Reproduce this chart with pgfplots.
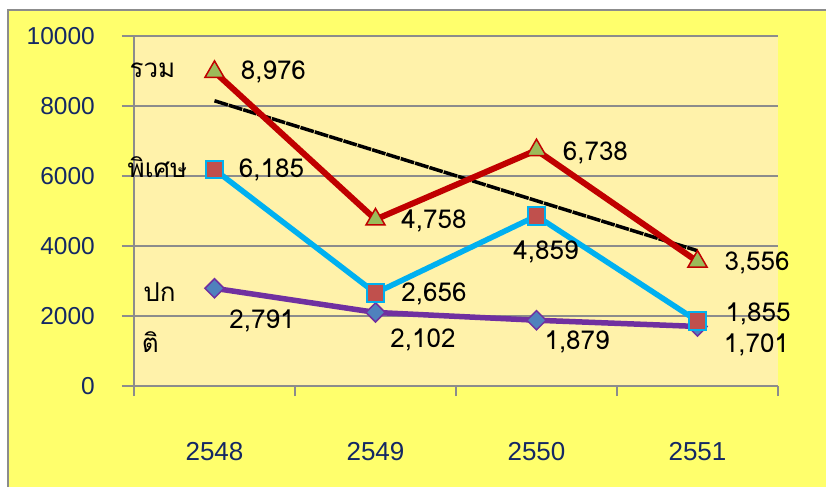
\documentclass[border=0pt]{standalone}
\usepackage{fontspec}
\setmainfont{Liberation Sans}
\newfontfamily\thaifont[Script=Thai]{Loma}
\usepackage{pgfplots}
\pgfplotsset{compat=1.18}
\definecolor{outery}{RGB}{255,255,108}
\definecolor{ploty}{RGB}{255,242,170}
\definecolor{gridg}{RGB}{140,140,140}
\definecolor{navy}{RGB}{20,40,100}
\definecolor{rredd}{RGB}{192,0,0}
\definecolor{tgreen}{RGB}{155,187,89}
\definecolor{cyanl}{RGB}{0,176,240}
\definecolor{sqred}{RGB}{192,80,77}
\definecolor{purp}{RGB}{112,48,160}
\definecolor{dblue}{RGB}{79,129,189}
\begin{document}
\begin{tikzpicture}[x=1pt,y=1pt]
\useasboundingbox (0,0) rectangle (826,487);
\fill[outery] (8,0) rectangle (826,477);
\draw[gridg, line width=2.5pt] (8,0) -- (8,477) -- (826,477);
\begin{axis}[
  at={(134pt,101pt)}, anchor=south west,
  scale only axis, width=644pt, height=350pt,
  xmin=-0.5, xmax=3.5, ymin=0, ymax=10000,
  axis background/.style={fill=ploty},
  axis lines=left,
  axis line style={-, gridg, line width=1.5pt},
  ytick={0,2000,4000,6000,8000,10000},
  scaled y ticks=false,
  ymajorgrids, grid style={gridg, line width=1.5pt},
  tick align=outside,
  major tick length=12pt,
  minor tick length=10pt,
  tick style={gridg, line width=1.5pt},
  xtick={0,1,2,3},
  xticklabels={2548,2549,2550,2551},
  major x tick style={draw=none},
  minor xtick={-0.5,0.5,1.5,2.5,3.5},
  minor x tick style={draw=gridg, line width=1.5pt},
  /pgf/number format/assume math mode=true,
  yticklabel={\pgfmathprintnumber[fixed,precision=0,set thousands separator={}]{\tick}},
  yticklabel style={font=\fontsize{24.5}{24.5}\selectfont, text=navy, anchor=east, inner sep=0pt, xshift=-27pt},
  xticklabel style={font=\fontsize{26}{26}\selectfont, text=navy, anchor=center, yshift=-54pt},
  clip=false,
]
% trend line
\addplot[black, line width=3.5pt, dash pattern=on 14pt off 1pt] coordinates {(0,8149) (3,3865)};
% ปกติ
\addplot[purp, line width=5.5pt, mark=square*, mark size=6.8pt,
  mark options={rotate=45, fill=dblue, draw=purp, line width=1.5pt, solid}]
  coordinates {(0,2791) (1,2102) (2,1879) (3,1701)};
% พิเศษ
\addplot[cyanl, line width=5.5pt, mark=square*, mark size=8.8pt,
  mark options={fill=sqred, draw=cyanl, line width=2pt, solid}]
  coordinates {(0,6185) (1,2656) (2,4859) (3,1855)};
% รวม
\addplot[rredd, line width=6pt, mark=triangle*, mark size=11pt,
  mark options={fill=tgreen, draw=rredd, line width=1.5pt, solid}]
  coordinates {(0,8976) (1,4758) (2,6738) (3,3556)};
\begin{scope}[every node/.style={font=\thaifont\fontsize{26}{26}\selectfont, text=black, anchor=base, inner sep=0pt}]
\node at (axis cs:0.366,8743) {8,976};
\node at (axis cs:1.363,4514) {4,758};
\node at (axis cs:2.366,6457) {6,738};
\node at (axis cs:3.370,3286) {3,556};
\node at (axis cs:0.354,5943) {6,185};
\node at (axis cs:1.363,2400) {2,656};
\node at (axis cs:2.059,3600) {4,859};
\node at (axis cs:3.376,1857) {1,855};
\node at (axis cs:0.295,1629) {2,791};
\node at (axis cs:1.295,1114) {2,102};
\node at (axis cs:2.252,1029) {1,879};
\node at (axis cs:3.366,943) {1,701};
\node at (axis cs:-0.385,8800) {รวม};
\node at (axis cs:-0.354,5971) {พิเศษ};
\node at (axis cs:-0.342,2400) {ปก};
\node at (axis cs:-0.398,943) {ติ};
\end{scope}
\end{axis}
\end{tikzpicture}
\end{document}
